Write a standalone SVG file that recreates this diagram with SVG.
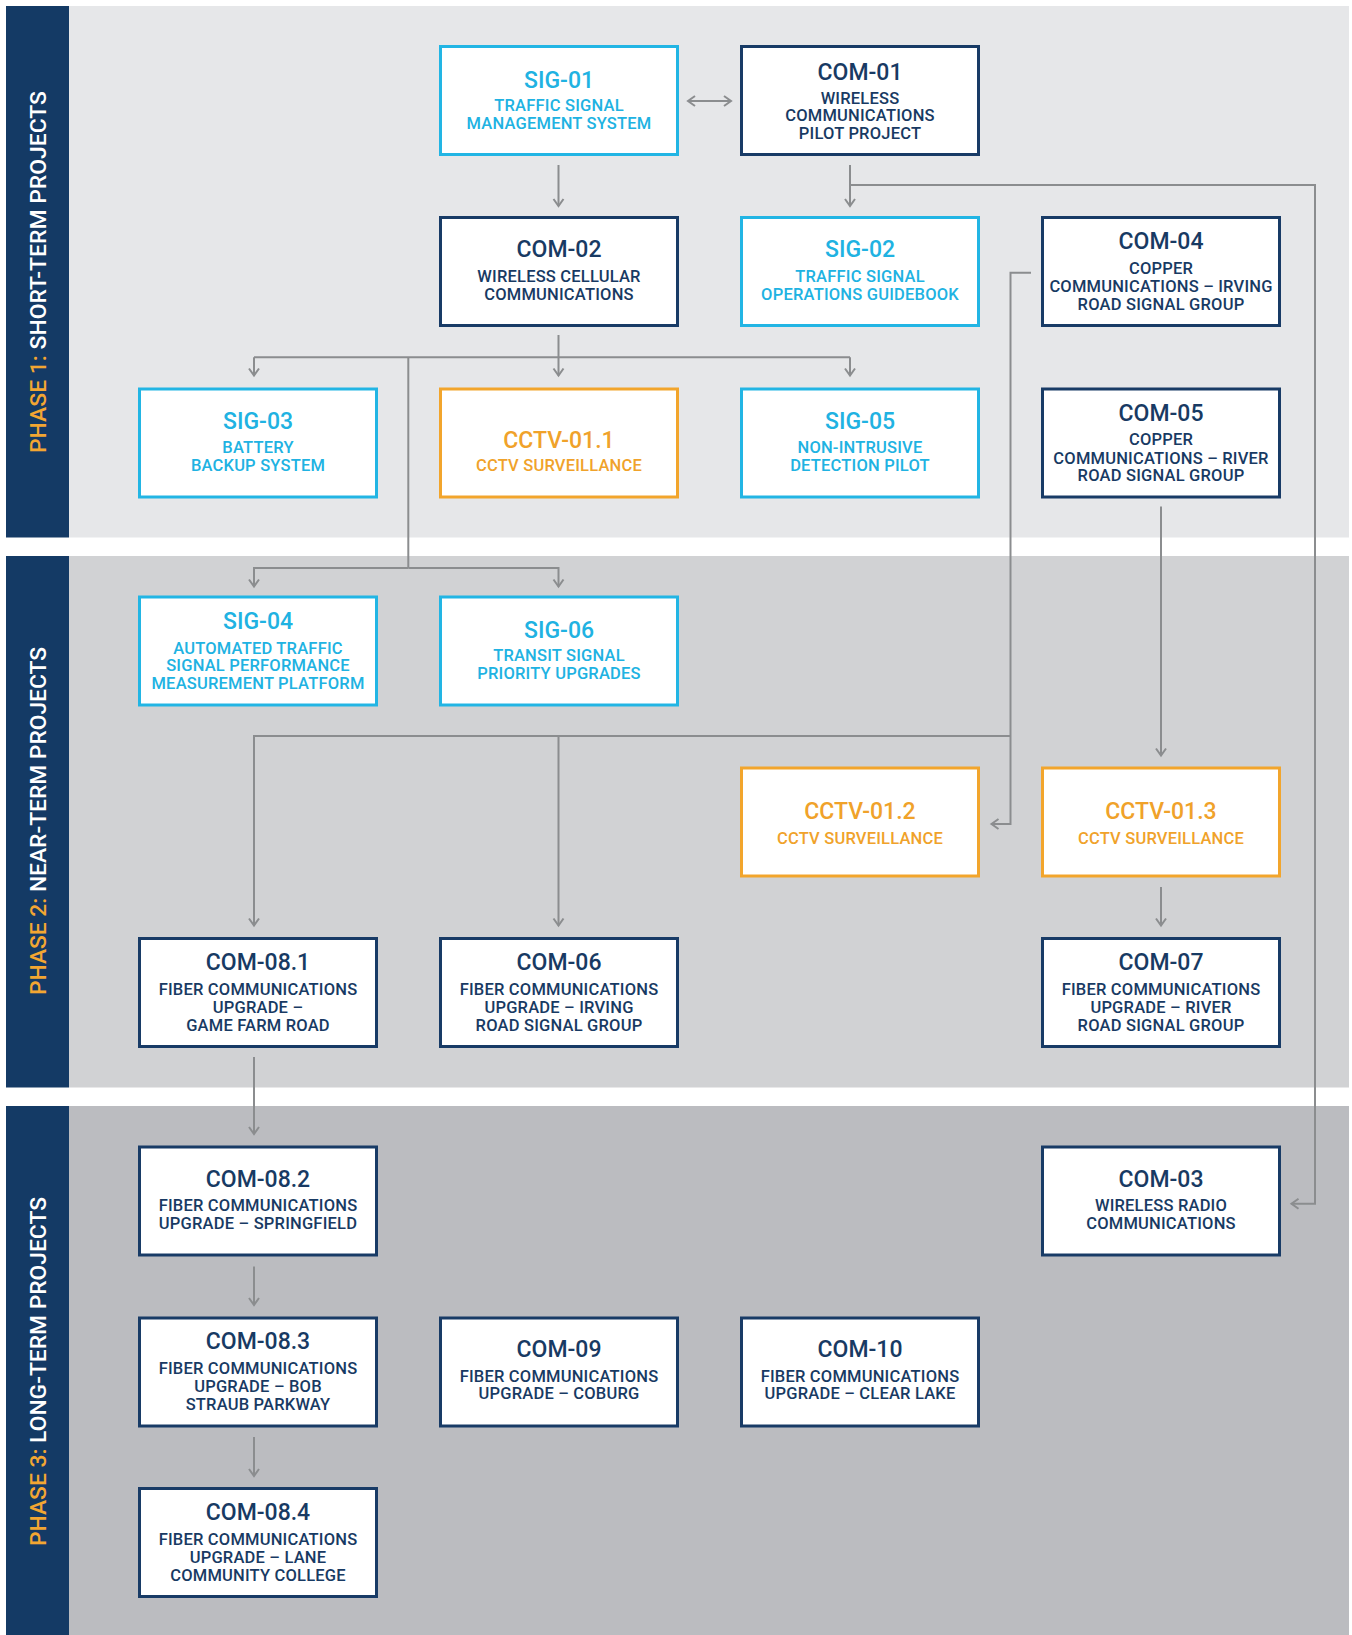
<svg xmlns="http://www.w3.org/2000/svg" width="1352" height="1635" viewBox="0 0 1352 1635">
<defs>
<style>
.band1{fill:#e6e7e9}.band2{fill:#d1d2d4}.band3{fill:#bbbcc0}.side{fill:#143a65}
.box{fill:#fff;stroke-width:3}
.navy .box{stroke:#183b66}.cyan .box{stroke:#22b5e4}.orange .box{stroke:#f2a52c}
text{font-family:Roboto,"Liberation Sans",sans-serif;font-weight:500;text-anchor:middle}
.navy text{fill:#183a63}.cyan text{fill:#20b2e2}.orange text{fill:#f0a22a}
.t{font-size:23px}.s{font-size:16.5px;letter-spacing:0.2px}
.ph{font-size:22px;font-weight:500;text-anchor:start;fill:#fff}
.ph .o{fill:#f3a632}
.conn path{fill:none;stroke:#8b8d8f;stroke-width:2}
</style>
<marker id="arr" markerUnits="userSpaceOnUse" markerWidth="20" markerHeight="20" viewBox="-10 -10 20 20" refX="0" refY="0" orient="auto-start-reverse">
<path d="M-7,-5 L0,0 L-7,5" fill="none" stroke="#8b8d8f" stroke-width="2"/>
</marker>
</defs>
<rect width="1352" height="1635" fill="#fff"/>
<g id="bands">
<rect class="band1" x="69" y="6" width="1280" height="531.5"/>
<rect class="band2" x="69" y="556" width="1280" height="531.5"/>
<rect class="band3" x="69" y="1106" width="1280" height="529"/>
<rect class="side" x="6" y="6" width="63" height="531.5"/>
<rect class="side" x="6" y="556" width="63" height="531.5"/>
<rect class="side" x="6" y="1106" width="63" height="529"/>
<text class="ph" transform="translate(45.7,453) rotate(-90)" textLength="362" lengthAdjust="spacingAndGlyphs"><tspan class="o">PHASE 1: </tspan>SHORT-TERM PROJECTS</text>
<text class="ph" transform="translate(45.7,995) rotate(-90)" textLength="348" lengthAdjust="spacingAndGlyphs"><tspan class="o">PHASE 2: </tspan>NEAR-TERM PROJECTS</text>
<text class="ph" transform="translate(45.7,1546) rotate(-90)" textLength="349" lengthAdjust="spacingAndGlyphs"><tspan class="o">PHASE 3: </tspan>LONG-TERM PROJECTS</text>
</g>
<g class="conn" id="connectors">
<path d="M688,101 H731" marker-start="url(#arr)" marker-end="url(#arr)"/>
<path d="M558.5,165 V206" marker-end="url(#arr)"/>
<path d="M850,165 V206" marker-end="url(#arr)"/>
<path d="M850,185 H1315 V1203.7 H1291.5" marker-end="url(#arr)"/>
<path d="M558.5,335 V375.5" marker-end="url(#arr)"/>
<path d="M254,357.3 H850"/>
<path d="M254,357.3 V375.5" marker-end="url(#arr)"/>
<path d="M850,357.3 V375.5" marker-end="url(#arr)"/>
<path d="M408.3,357.3 V568"/>
<path d="M408.3,568 H254 V586.5" marker-end="url(#arr)"/>
<path d="M408.3,568 H558.5 V586.5" marker-end="url(#arr)"/>
<path d="M1031,272.7 H1010.5 V824 H991.5" marker-end="url(#arr)"/>
<path d="M1010.5,736 H254 V925.5" marker-end="url(#arr)"/>
<path d="M558.5,736 V925.5" marker-end="url(#arr)"/>
<path d="M1161,506.5 V755.5" marker-end="url(#arr)"/>
<path d="M1161,887 V925.5" marker-end="url(#arr)"/>
<path d="M254,1057 V1134" marker-end="url(#arr)"/>
<path d="M254,1266.5 V1305" marker-end="url(#arr)"/>
<path d="M254,1437 V1476" marker-end="url(#arr)"/>
</g>
<g id="SIG-01" class="cyan"><rect class="box" x="440.5" y="46.5" width="237" height="108"/>
<text class="t" x="559" y="87.5">SIG-01</text><text class="s" x="559" y="111">TRAFFIC SIGNAL</text><text class="s" x="559" y="129">MANAGEMENT SYSTEM</text></g>
<g id="COM-01" class="navy"><rect class="box" x="741.5" y="46.5" width="237" height="108"/>
<text class="t" x="860" y="80">COM-01</text><text class="s" x="860" y="103.6">WIRELESS</text><text class="s" x="860" y="121.4">COMMUNICATIONS</text><text class="s" x="860" y="139">PILOT PROJECT</text></g>
<g id="COM-02" class="navy"><rect class="box" x="440.5" y="217.5" width="237" height="108"/>
<text class="t" x="559" y="257">COM-02</text><text class="s" x="559" y="282">WIRELESS CELLULAR</text><text class="s" x="559" y="300">COMMUNICATIONS</text></g>
<g id="SIG-02" class="cyan"><rect class="box" x="741.5" y="217.5" width="237" height="108"/>
<text class="t" x="860" y="257">SIG-02</text><text class="s" x="860" y="282">TRAFFIC SIGNAL</text><text class="s" x="860" y="300">OPERATIONS GUIDEBOOK</text></g>
<g id="COM-04" class="navy"><rect class="box" x="1042.5" y="217.5" width="237" height="108"/>
<text class="t" x="1161" y="249">COM-04</text><text class="s" x="1161" y="274">COPPER</text><text class="s" x="1161" y="292">COMMUNICATIONS – IRVING</text><text class="s" x="1161" y="310">ROAD SIGNAL GROUP</text></g>
<g id="SIG-03" class="cyan"><rect class="box" x="139.5" y="389" width="237" height="108"/>
<text class="t" x="258" y="428.6">SIG-03</text><text class="s" x="258" y="452.8">BATTERY</text><text class="s" x="258" y="470.7">BACKUP SYSTEM</text></g>
<g id="CCTV-01.1" class="orange"><rect class="box" x="440.5" y="389" width="237" height="108"/>
<text class="t" x="559" y="447.5">CCTV-01.1</text><text class="s" x="559" y="470.7">CCTV SURVEILLANCE</text></g>
<g id="SIG-05" class="cyan"><rect class="box" x="741.5" y="389" width="237" height="108"/>
<text class="t" x="860" y="428.6">SIG-05</text><text class="s" x="860" y="452.8">NON-INTRUSIVE</text><text class="s" x="860" y="470.7">DETECTION PILOT</text></g>
<g id="COM-05" class="navy"><rect class="box" x="1042.5" y="389" width="237" height="108"/>
<text class="t" x="1161" y="420.7">COM-05</text><text class="s" x="1161" y="445">COPPER</text><text class="s" x="1161" y="463.6">COMMUNICATIONS – RIVER</text><text class="s" x="1161" y="480.7">ROAD SIGNAL GROUP</text></g>
<g id="SIG-04" class="cyan"><rect class="box" x="139.5" y="597" width="237" height="108"/>
<text class="t" x="258" y="629.3">SIG-04</text><text class="s" x="258" y="653.6">AUTOMATED TRAFFIC</text><text class="s" x="258" y="671.4">SIGNAL PERFORMANCE</text><text class="s" x="258" y="689.3">MEASUREMENT PLATFORM</text></g>
<g id="SIG-06" class="cyan"><rect class="box" x="440.5" y="597" width="237" height="108"/>
<text class="t" x="559" y="637.5">SIG-06</text><text class="s" x="559" y="661.4">TRANSIT SIGNAL</text><text class="s" x="559" y="679.3">PRIORITY UPGRADES</text></g>
<g id="CCTV-01.2" class="orange"><rect class="box" x="741.5" y="768" width="237" height="108"/>
<text class="t" x="860" y="818.6">CCTV-01.2</text><text class="s" x="860" y="843.6">CCTV SURVEILLANCE</text></g>
<g id="CCTV-01.3" class="orange"><rect class="box" x="1042.5" y="768" width="237" height="108"/>
<text class="t" x="1161" y="818.6">CCTV-01.3</text><text class="s" x="1161" y="843.6">CCTV SURVEILLANCE</text></g>
<g id="COM-08.1" class="navy"><rect class="box" x="139.5" y="938.5" width="237" height="108"/>
<text class="t" x="258" y="970.4">COM-08.1</text><text class="s" x="258" y="995.4">FIBER COMMUNICATIONS</text><text class="s" x="258" y="1013.2">UPGRADE –</text><text class="s" x="258" y="1031">GAME FARM ROAD</text></g>
<g id="COM-06" class="navy"><rect class="box" x="440.5" y="938.5" width="237" height="108"/>
<text class="t" x="559" y="970.4">COM-06</text><text class="s" x="559" y="995.4">FIBER COMMUNICATIONS</text><text class="s" x="559" y="1013.2">UPGRADE – IRVING</text><text class="s" x="559" y="1031">ROAD SIGNAL GROUP</text></g>
<g id="COM-07" class="navy"><rect class="box" x="1042.5" y="938.5" width="237" height="108"/>
<text class="t" x="1161" y="970.4">COM-07</text><text class="s" x="1161" y="995.4">FIBER COMMUNICATIONS</text><text class="s" x="1161" y="1013.2">UPGRADE – RIVER</text><text class="s" x="1161" y="1031">ROAD SIGNAL GROUP</text></g>
<g id="COM-08.2" class="navy"><rect class="box" x="139.5" y="1147" width="237" height="108"/>
<text class="t" x="258" y="1187.3">COM-08.2</text><text class="s" x="258" y="1211">FIBER COMMUNICATIONS</text><text class="s" x="258" y="1229">UPGRADE – SPRINGFIELD</text></g>
<g id="COM-03" class="navy"><rect class="box" x="1042.5" y="1147" width="237" height="108"/>
<text class="t" x="1161" y="1187.3">COM-03</text><text class="s" x="1161" y="1211">WIRELESS RADIO</text><text class="s" x="1161" y="1229">COMMUNICATIONS</text></g>
<g id="COM-08.3" class="navy"><rect class="box" x="139.5" y="1318" width="237" height="108"/>
<text class="t" x="258" y="1349">COM-08.3</text><text class="s" x="258" y="1374.3">FIBER COMMUNICATIONS</text><text class="s" x="258" y="1391.7">UPGRADE – BOB</text><text class="s" x="258" y="1409.8">STRAUB PARKWAY</text></g>
<g id="COM-09" class="navy"><rect class="box" x="440.5" y="1318" width="237" height="108"/>
<text class="t" x="559" y="1357">COM-09</text><text class="s" x="559" y="1382">FIBER COMMUNICATIONS</text><text class="s" x="559" y="1399.3">UPGRADE – COBURG</text></g>
<g id="COM-10" class="navy"><rect class="box" x="741.5" y="1318" width="237" height="108"/>
<text class="t" x="860" y="1357">COM-10</text><text class="s" x="860" y="1382">FIBER COMMUNICATIONS</text><text class="s" x="860" y="1399.3">UPGRADE – CLEAR LAKE</text></g>
<g id="COM-08.4" class="navy"><rect class="box" x="139.5" y="1488.5" width="237" height="108"/>
<text class="t" x="258" y="1520">COM-08.4</text><text class="s" x="258" y="1544.6">FIBER COMMUNICATIONS</text><text class="s" x="258" y="1562.7">UPGRADE – LANE</text><text class="s" x="258" y="1580.8">COMMUNITY COLLEGE</text></g>
</svg>
